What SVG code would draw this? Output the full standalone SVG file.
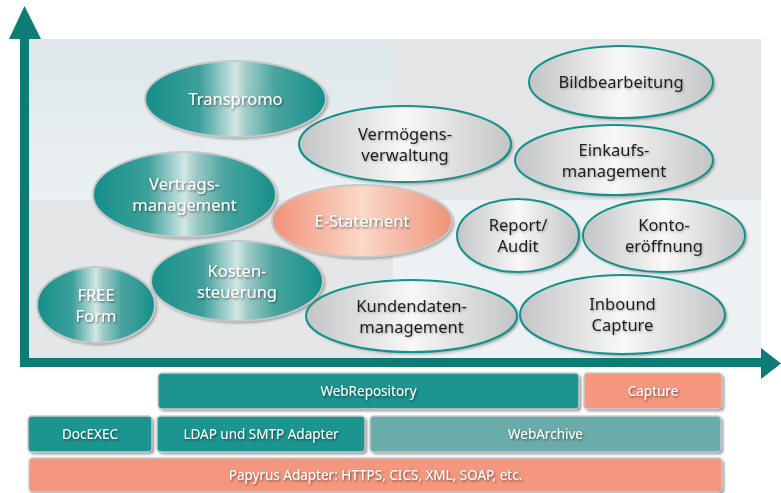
<svg xmlns="http://www.w3.org/2000/svg" width="781" height="493" viewBox="0 0 781 493">
<defs>
<linearGradient id="gTeal" x1="0" y1="0" x2="1" y2="0">
<stop offset="0" stop-color="#168f89"/><stop offset="0.3" stop-color="#3d9f9a"/><stop offset="0.5" stop-color="#d2e7e5"/><stop offset="0.56" stop-color="#9fcac6"/><stop offset="0.72" stop-color="#48a49f"/><stop offset="1" stop-color="#168f89"/>
</linearGradient>
<linearGradient id="gGray" x1="0" y1="0" x2="1" y2="0">
<stop offset="0" stop-color="#c3c4c5"/><stop offset="0.5" stop-color="#f8f8f8"/><stop offset="1" stop-color="#c3c4c5"/>
</linearGradient>
<linearGradient id="gSalmon" x1="0" y1="0" x2="1" y2="0">
<stop offset="0" stop-color="#f09277"/><stop offset="0.5" stop-color="#fbd8ca"/><stop offset="1" stop-color="#f09277"/>
</linearGradient>
<linearGradient id="gTL" x1="0" y1="0" x2="0" y2="1">
<stop offset="0" stop-color="#dfe7ea"/><stop offset="1" stop-color="#ebf0f2"/>
</linearGradient>
<filter id="blur" x="-10%" y="-10%" width="120%" height="130%"><feGaussianBlur stdDeviation="1.5"/></filter>
<filter id="ts" x="-10%" y="-30%" width="120%" height="160%"><feDropShadow dx="1" dy="1.2" stdDeviation="0.9" flood-color="#000" flood-opacity="0.55"/></filter>
<filter id="tsl" x="-10%" y="-30%" width="120%" height="160%"><feDropShadow dx="1" dy="1.2" stdDeviation="0.9" flood-color="#000" flood-opacity="0.3"/></filter>
</defs>
<style>
.sh{fill:#7a7a7a;filter:url(#blur);opacity:0.75}
.teal{fill:url(#gTeal);stroke:#c6c8c9;stroke-width:2}
.gray{fill:url(#gGray);stroke:#14918a;stroke-width:2}
.salmon{fill:url(#gSalmon);stroke:#c6c8c9;stroke-width:2}
.tw{font-family:"Noto Sans","Open Sans",sans-serif;font-size:16.5px;fill:#ffffff;text-anchor:middle;filter:url(#ts)}
.td{font-family:"Noto Sans","Open Sans",sans-serif;font-size:16.5px;fill:#1e1e1e;text-anchor:middle;filter:url(#tsl)}
.bt{font-family:"Noto Sans","Open Sans",sans-serif;font-size:13.5px;fill:#ffffff;text-anchor:middle;filter:url(#ts)}
.bsh{fill:#8d8d8d;filter:url(#blur)}
.b1{fill:#1c948f;stroke:#c9cacb;stroke-width:1.5}
.b2{fill:#6aaca9;stroke:#c9cacb;stroke-width:1.5}
.b3{fill:#f4977e;stroke:#c9cacb;stroke-width:1.5}
.axis{fill:#0e7c75}
</style>
<rect width="781" height="493" fill="#ffffff"/>
<g id="panel">
<rect x="29" y="39" width="364" height="161" fill="url(#gTL)"/>
<rect x="393" y="39" width="368" height="161" fill="#e4e5e7"/>
<rect x="29" y="200" width="364" height="158" fill="#e4e6e8"/>
<rect x="393" y="200" width="368" height="158" fill="#edf1f3"/>
</g>
<g id="connectors">
<rect class="axis" x="20" y="36" width="9" height="331"/>
<polygon class="axis" points="9,39 24.5,6 41,39"/>
<path class="axis" d="M20,358 H762 V367 H26 Q20,367 20,361 Z"/>
<polygon class="axis" points="761,348 781,363.5 761,379"/>
</g>
<g id="n-vermoegens">
<ellipse class="sh" cx="407" cy="146" rx="106" ry="38"/>
<ellipse class="gray" cx="405" cy="144" rx="106" ry="38"/>
<text class="td" x="405" y="139.5">Vermögens-</text><text class="td" x="405" y="160.5">verwaltung</text>
</g>
<g id="n-transpromo">
<ellipse class="sh" cx="237.5" cy="101" rx="90.5" ry="38"/>
<ellipse class="teal" cx="235.5" cy="99" rx="90.5" ry="38"/>
<text class="tw" x="235.5" y="104.5">Transpromo</text>
</g>
<g id="n-estatement">
<ellipse class="sh" cx="364" cy="223" rx="90" ry="36"/>
<ellipse class="salmon" cx="362" cy="221" rx="90" ry="36"/>
<text class="tw" x="362" y="227">E-Statement</text>
</g>
<g id="n-vertrags">
<ellipse class="sh" cx="186.5" cy="196.5" rx="91.5" ry="42.5"/>
<ellipse class="teal" cx="184.5" cy="194.5" rx="91.5" ry="42.5"/>
<text class="tw" x="184.5" y="190">Vertrags-</text><text class="tw" x="184.5" y="211">management</text>
</g>
<g id="n-bild">
<ellipse class="sh" cx="623" cy="84" rx="92" ry="36"/>
<ellipse class="gray" cx="621" cy="82" rx="92" ry="36"/>
<text class="td" x="621" y="87.5">Bildbearbeitung</text>
</g>
<g id="n-einkauf">
<ellipse class="sh" cx="616" cy="162" rx="99" ry="35"/>
<ellipse class="gray" cx="614" cy="160" rx="99" ry="35"/>
<text class="td" x="614" y="155.5">Einkaufs-</text><text class="td" x="614" y="176.5">management</text>
</g>
<g id="n-report">
<ellipse class="sh" cx="520" cy="237.5" rx="61" ry="36.5"/>
<ellipse class="gray" cx="518" cy="235.5" rx="61" ry="36.5"/>
<text class="td" x="518" y="231">Report/</text><text class="td" x="518" y="252">Audit</text>
</g>
<g id="n-konto">
<ellipse class="sh" cx="666" cy="237.5" rx="81" ry="36.5"/>
<ellipse class="gray" cx="664" cy="235.5" rx="81" ry="36.5"/>
<text class="td" x="664" y="231">Konto-</text><text class="td" x="664" y="252">eröffnung</text>
</g>
<g id="n-kundendaten">
<ellipse class="sh" cx="413.5" cy="318" rx="105.5" ry="36"/>
<ellipse class="gray" cx="411.5" cy="316" rx="105.5" ry="36"/>
<text class="td" x="411.5" y="311.5">Kundendaten-</text><text class="td" x="411.5" y="332.5">management</text>
</g>
<g id="n-inbound">
<ellipse class="sh" cx="624.5" cy="316.5" rx="102.5" ry="39.5"/>
<ellipse class="gray" cx="622.5" cy="314.5" rx="102.5" ry="39.5"/>
<text class="td" x="622.5" y="310">Inbound</text><text class="td" x="622.5" y="331">Capture</text>
</g>
<g id="n-kosten">
<ellipse class="sh" cx="239" cy="283" rx="86" ry="40"/>
<ellipse class="teal" cx="237" cy="281" rx="86" ry="40"/>
<text class="tw" x="237" y="276.5">Kosten-</text><text class="tw" x="237" y="297.5">steuerung</text>
</g>
<g id="n-freeform">
<ellipse class="sh" cx="98" cy="307" rx="59" ry="38"/>
<ellipse class="teal" cx="96" cy="305" rx="59" ry="38"/>
<text class="tw" x="96" y="300.5">FREE</text><text class="tw" x="96" y="321.5">Form</text>
</g>
<g id="b-webrepository">
<rect class="bsh" x="160" y="375" width="421" height="36" rx="4"/>
<rect class="b1" x="158" y="373" width="421" height="36" rx="4"/>
<text class="bt" x="368.5" y="396">WebRepository</text>
</g>
<g id="b-capture">
<rect class="bsh" x="586" y="375" width="138" height="36" rx="4"/>
<rect class="b3" x="584" y="373" width="138" height="36" rx="4"/>
<text class="bt" x="653" y="396">Capture</text>
</g>
<g id="b-docexec">
<rect class="bsh" x="30" y="418" width="124" height="36" rx="4"/>
<rect class="b1" x="28" y="416" width="124" height="36" rx="4"/>
<text class="bt" x="90" y="439">DocEXEC</text>
</g>
<g id="b-ldap">
<rect class="bsh" x="159" y="418" width="208" height="36" rx="4"/>
<rect class="b1" x="157" y="416" width="208" height="36" rx="4"/>
<text class="bt" x="261" y="439">LDAP und SMTP Adapter</text>
</g>
<g id="b-webarchive">
<rect class="bsh" x="372" y="418" width="351" height="36" rx="4"/>
<rect class="b2" x="370" y="416" width="351" height="36" rx="4"/>
<text class="bt" x="545.5" y="439">WebArchive</text>
</g>
<g id="b-papyrus">
<rect class="bsh" x="31" y="460" width="693" height="34" rx="4"/>
<rect class="b3" x="29" y="458" width="693" height="34" rx="4"/>
<text class="bt" x="375.5" y="480">Papyrus Adapter: HTTPS, CICS, XML, SOAP, etc.</text>
</g>
</svg>
